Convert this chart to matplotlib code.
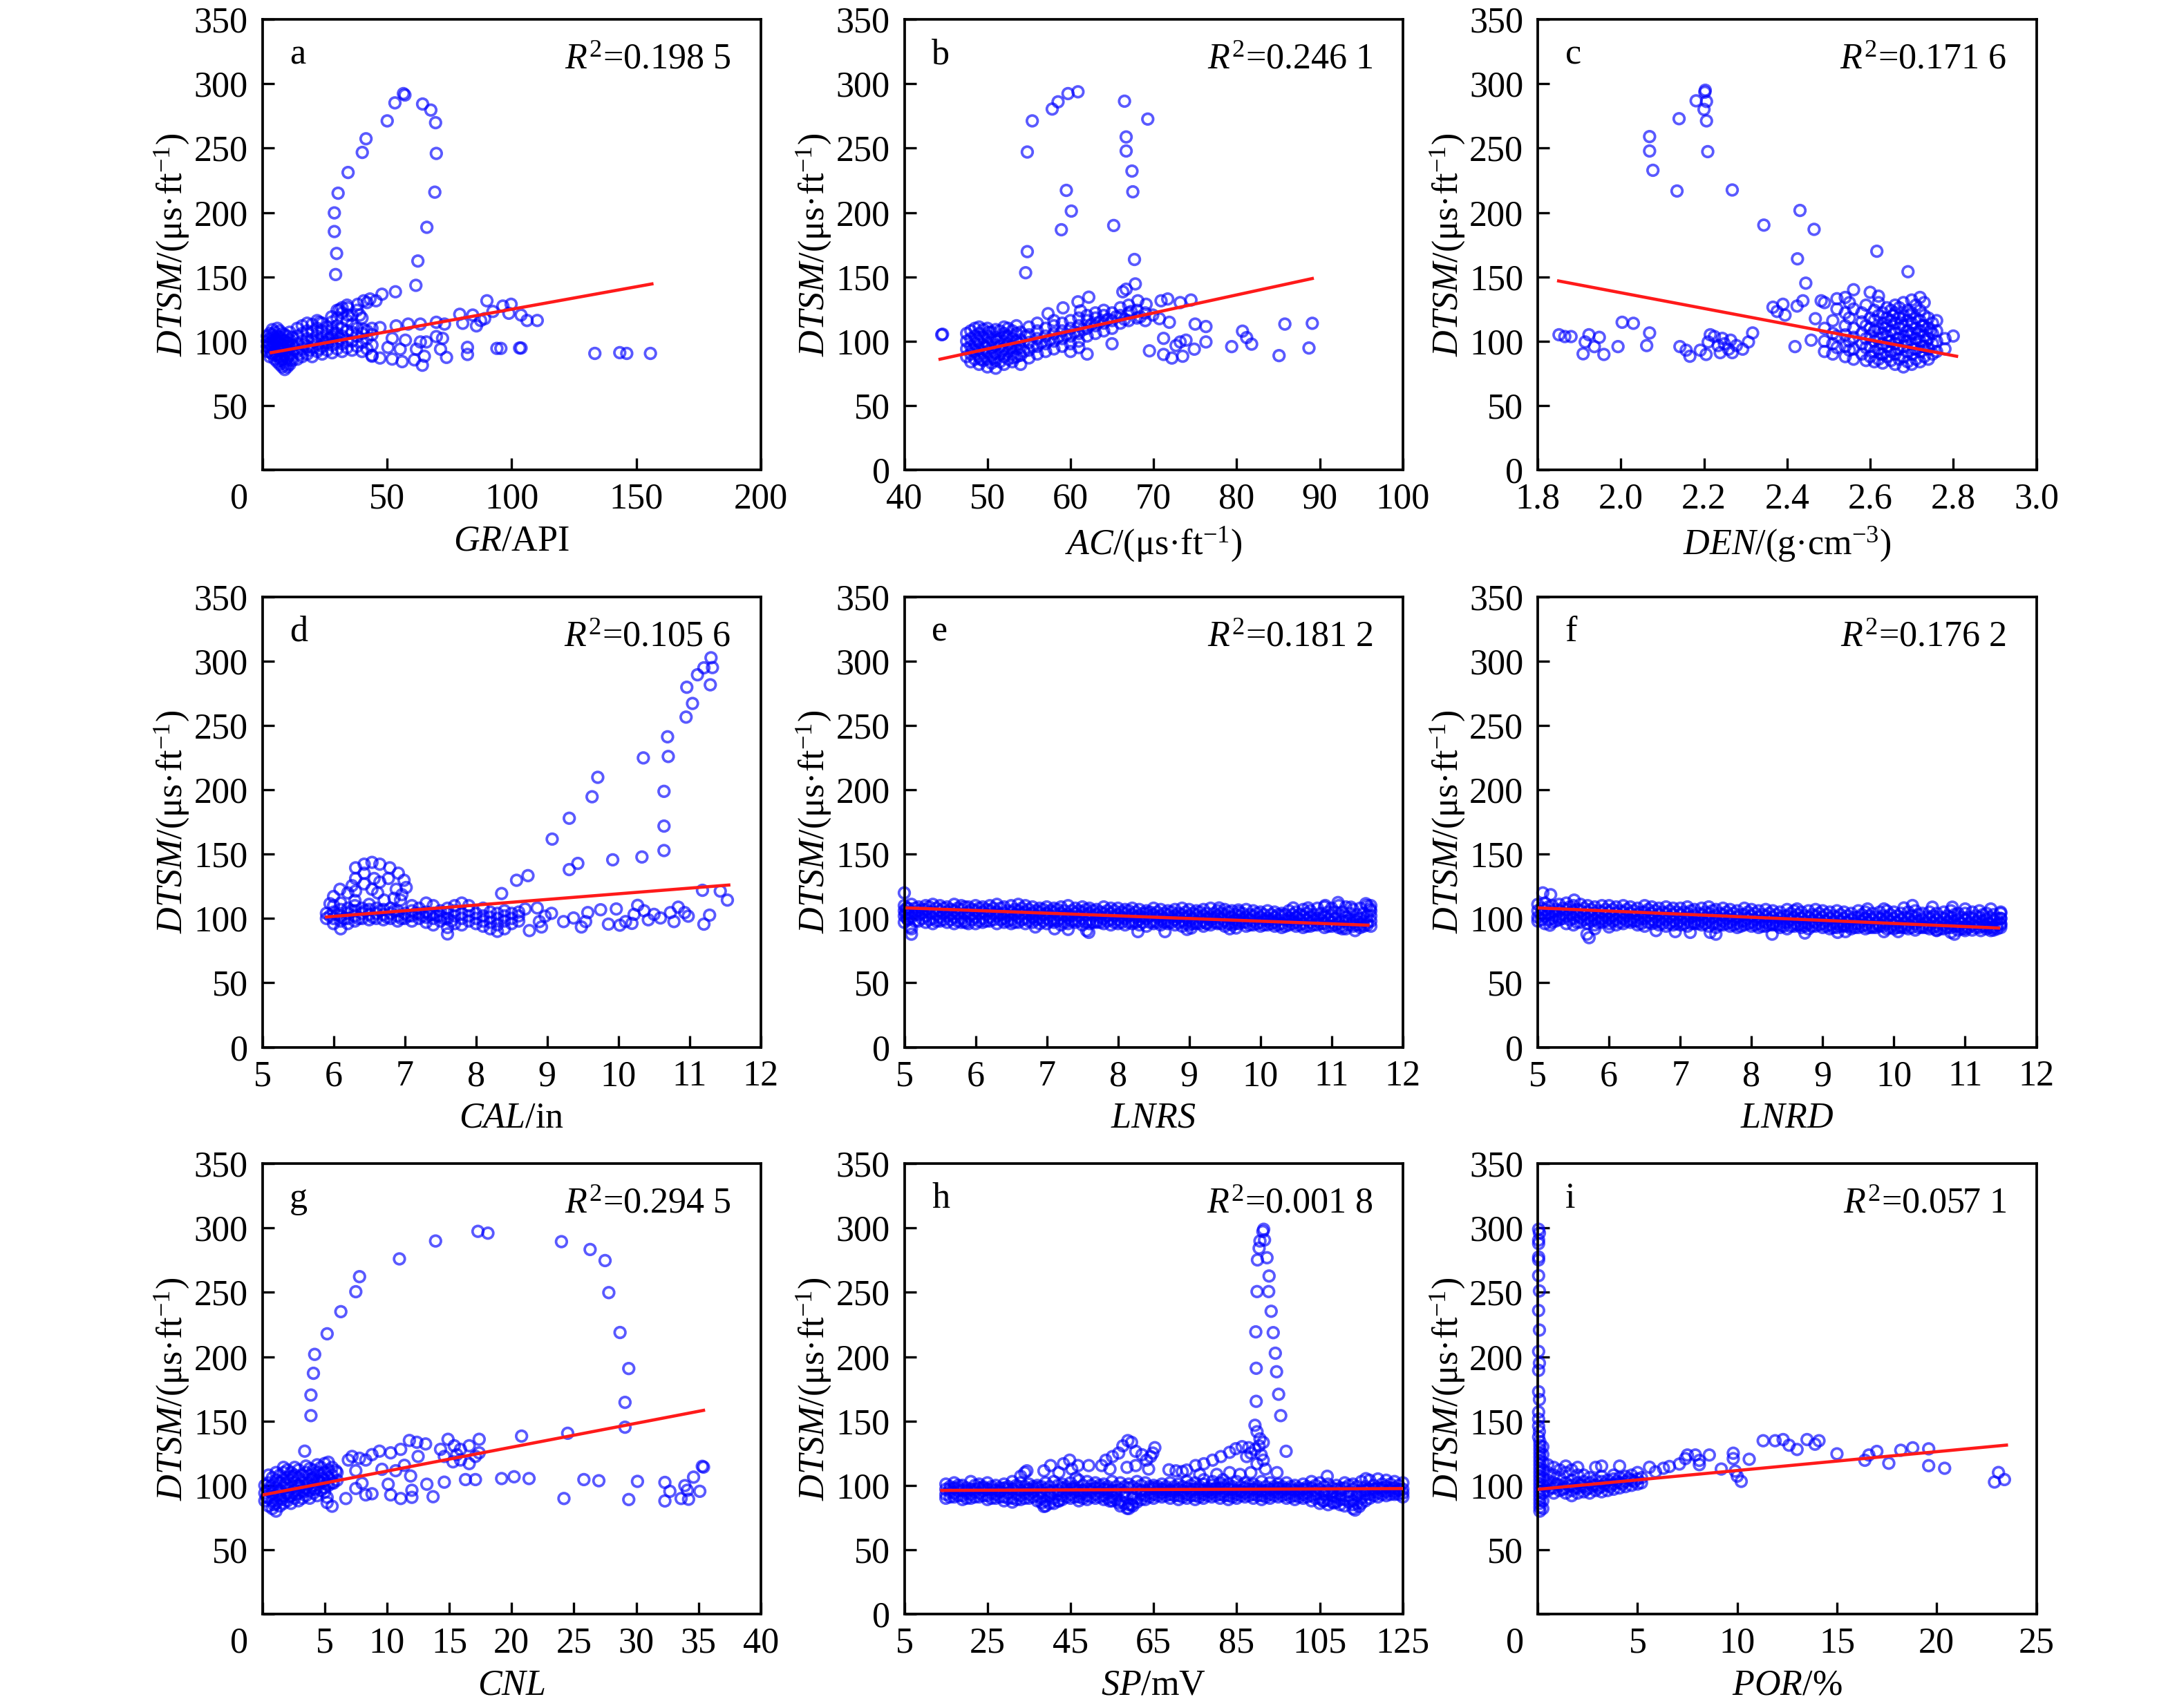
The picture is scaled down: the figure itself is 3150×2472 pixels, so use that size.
import numpy as np
import matplotlib.pyplot as plt

plt.rcParams['font.family'] = 'Liberation Serif'
plt.rcParams['mathtext.fontset'] = 'custom'
plt.rcParams['mathtext.rm'] = 'Liberation Serif'
plt.rcParams['mathtext.it'] = 'Liberation Serif:italic'
plt.rcParams['font.size'] = 12.5

# ---------------- data ----------------
# panel a : GR
a_pts = [(2,92),(2,96),(2,100),(2,104),(3,88),(3,94),(3,98),(3,102),(3,106),
         (4,90),(4,95),(4,100),(4,105),(4,109),(5,86),(5,92),(5,97),(5,101),(5,107),
         (6,84),(6,90),(6,95),(6,99),(6,104),(6,110),(7,82),(7,88),(7,93),(7,98),(7,103),(7,108),
         (8,80),(8,86),(8,92),(8,97),(8,101),(8,106),(9,78),(9,84),(9,90),(9,96),(9,100),(9,105),
         (10,80),(10,87),(10,93),(10,99),(10,104),(11,82),(11,89),(11,95),(11,101),(11,107),
         (12,85),(12,91),(12,97),(12,103),(14,86),(14,92),(14,98),(14,104),(14,110),
         (16,88),(16,94),(16,100),(16,106),(16,112),(18,90),(18,96),(18,102),(18,108),(18,114),
         (20,88),(20,95),(20,101),(20,107),(20,113),(22,92),(22,98),(22,104),(22,110),(22,116),
         (24,90),(24,96),(24,102),(24,108),(24,114),(26,93),(26,99),(26,105),(26,111),
         (28,91),(28,97),(28,103),(28,109),(28,115),(30,94),(30,100),(30,106),(30,112),(30,118),(30,124),
         (32,92),(32,98),(32,104),(32,110),(32,122),(32,126),(34,95),(34,101),(34,108),(34,116),(34,128),
         (36,93),(36,100),(36,107),(36,113),(36,120),(38,96),(38,104),(38,110),(38,124),
         (40,92),(40,99),(40,106),(40,118),(42,94),(42,102),(42,108),(42,130),(44,89),(44,97),(44,105),(44,110),
         (23,114.7),(27.8,118.9),(31,124.5),(34.3,125.9),(38.3,128.7),(40.7,131.4),(43.2,132.8),(45.6,131.4),
         (34.3,120.3),(39.1,120.3),(40.7,109.2),(47.2,110.6),(53.7,111.9),(58.5,113.3),(63.4,113.3),
         (69.8,114.7),(73.1,113.3),(63.4,99.4),(65.8,99.4),(57.4,100.8),(52.1,102.2),(44,88.3),(47.2,86.9),
         (52.1,86.1),(56.1,84.1),(61,85.5),(64.2,81.3),(65,88.3),(55.3,93.8),(50.4,95.2),(61.8,93.8),
         (71.5,93.8),(73.9,87.4),(72.3,102.2),(69.8,103.6),
         (29.4,151.8),(29.8,168.2),(28.9,185.2),(28.9,199.7),(30.4,215.0),(34.4,231.1),(40.1,246.7),
         (41.6,257.3),(50.1,271.2),(53.2,285.2),(56.6,292.4),(57.2,291.3),(64.3,284.3),(67.6,279.6),
         (69.5,269.8),(69.8,245.9),(69.2,215.8),(66.0,188.5),(62.4,162.3),(61.6,143.4),(53.4,138.4),(48.0,136.5),
         (133.4,90.5),(143.4,91.1),(146.2,90.5),(155.7,90.5),(94.1,94.4),(95.7,94.4),(103.2,94.7),(103.8,94.7),
         (82.3,95.2),(82.3,89.7),(79.2,120.9),(80.4,113.9),(84.4,120.3),(87.6,116.1),(90.1,131.4),(92.5,123.1),
         (96.5,127.3),(99.8,128.7),(103.8,120.3),(106.2,116.1),(110.3,116.1),(98.9,121.7),(89.2,117.5),(85.9,111.9),
         (2.5,98),(3.5,91),(4.5,103),(5.5,89),(6.5,101),(7.5,85),(8.5,94),(9.5,82),(10.5,97),(11.5,86),
         (13,94),(15,90),(17,97),(19,93),(21,100),(23,94),(25,99),(27,102),(29,106),(31,102)]
a_fit_x = [3.6, 156.3]
a_fit_y = [91.1, 144.5]

# panel b : AC
b_pts = [(47.5,88),(47.5,94),(47.5,100),(47.5,106),(48,84),(48,90),(48,96),(48,102),(48,108),
         (48.5,86),(48.5,92),(48.5,98),(48.5,104),(48.5,110),(49,82),(49,88),(49,94),(49,100),(49,106),(49,111),
         (49.5,85),(49.5,91),(49.5,97),(49.5,103),(49.5,109),(50,80),(50,86),(50,92),(50,98),(50,104),(50,110),
         (50.5,83),(50.5,89),(50.5,95),(50.5,101),(50.5,107),(51,79),(51,85),(51,91),(51,97),(51,103),(51,109),
         (51.5,84),(51.5,90),(51.5,96),(51.5,102),(51.5,108),(52,82),(52,88),(52,94),(52,100),(52,106),(52,111),
         (52.5,86),(52.5,92),(52.5,98),(52.5,104),(52.5,110),(53,84),(53,90),(53,96),(53,102),(53,108),
         (53.5,88),(53.5,94),(53.5,100),(53.5,106),(53.5,112),(54,82),(54,89),(54,95),(54,101),(54,107),
         (55,87),(55,93),(55,99),(55,105),(55,111),(56,90),(56,96),(56,102),(56,108),(56,114),
         (57,92),(57,98),(57,104),(57,110),(58,94),(58,100),(58,106),(58,112),(58,116),
         (59,96),(59,102),(59,108),(59,114),(60,98),(60,104),(60,110),(60,116),(60,92),
         (61,100),(61,106),(61,112),(61,118),(61,95),(62,104),(62,110),(62,116),(62,120),(62,90),
         (63,106),(63,112),(63,118),(63,122),(64,108),(64,114),(64,120),(64,124),
         (65,110),(65,116),(65,122),(65,98),(66,114),(66,120),(66,126),(67,116),(67,122),(67,128),
         (68,118),(68,124),(69,116),(69,122),
         (44.5,105.0),(44.6,105.4),(54.6,153.2),(54.8,169.6),(54.8,247.0),(55.4,271.2),(57.8,280.4),(58.5,286.0),
         (59.7,292.4),(60.9,293.8),(59.5,217.2),(60.1,201.1),(58.9,186.6),(65.2,189.9),(66.5,286.5),
         (69.3,272.6),(66.7,258.7),(66.7,247.8),(67.4,232.2),(67.5,216.1),(67.7,163.5),(67.8,144.5),
         (75.0,113.3),(76.3,111.4),(76.3,99.4),(74.9,93.8),(79.4,95.8),(80.7,107.8),(81.2,102.8),(81.8,97.7),
         (85.1,88.8),(85.8,113.3),(88.7,94.7),(89.1,113.9),(69.5,92.5),(71.2,89.7),(71.2,102.2),(72.7,96.6),
         (73.5,88.3),(73.2,99.4),(72.2,86.9),(73.9,100.8),
         (66.3,138.4),(66.7,140.4),(68.1,131.4),(69.1,128.7),(70.9,131.4),(71.7,132.8),(73.2,130.0),(74.5,132.0),
         (69.9,120.3),(70.7,117.5),(71.9,114.7),(68.4,118.9),(67.3,123.1),(62.2,134.2),(60.9,130.6),
         (59.1,125.9),(57.3,121.4),(61.2,123.6),
         (48.2,93),(48.8,101),(49.2,86),(49.8,95),(50.2,107),(50.8,87),(51.2,100),(51.8,93),(52.2,104),
         (52.8,95),(53.2,87),(53.8,98),(54.4,92),(54.6,104),(55.5,96),(56.5,99),(57.5,101),(58.5,103),
         (59.5,105),(60.5,107),(61.5,109),(62.5,113),(63.5,115),(64.5,117),(65.5,119),(66.5,117)]
b_fit_x = [44.3, 89.1]
b_fit_y = [86.0, 148.7]

# panel c : DEN
c_pts = [(2.069,259.0),(2.069,247.8),(2.077,232.8),(2.140,272.9),(2.135,216.7),(2.181,286.8),(2.202,293.5),
         (2.203,295.0),(2.206,286.3),(2.200,280.1),(2.206,271.2),(2.209,247.3),(2.268,217.5),(2.344,190.2),
         (2.431,201.6),(2.465,186.9),(2.425,164.0),(2.445,145.1),(2.616,169.9),(2.691,154.0),
         (1.851,105.0),(1.865,103.6),(1.880,103.6),(1.909,90.2),(1.914,99.4),(1.923,105.0),(1.936,95.8),
         (1.948,103.0),(1.959,89.7),(1.993,95.8),(2.003,114.7),(2.030,113.9),(2.062,96.6),(2.069,106.4),
         (2.142,95.8),(2.157,93.0),(2.166,88.3),(2.191,93.0),(2.205,89.7),(2.210,99.4),(2.215,105.0),
         (2.225,103.6),(2.234,96.6),(2.239,91.1),(2.249,98.0),(2.259,93.8),(2.264,100.8),(2.278,96.6),
         (2.293,93.8),(2.307,99.4),(2.317,106.4),(2.268,91.1),(2.244,102.2),
         (2.366,126.4),(2.376,123.1),(2.390,128.7),(2.395,120.3),(2.424,127.3),(2.438,131.4),(2.419,95.8),
         (2.458,100.8),(2.468,117.5),(2.482,131.4),
         (2.49,92),(2.49,100),(2.49,110),(2.49,130),(2.51,90),(2.51,98),(2.51,106),(2.51,116),
         (2.52,95),(2.52,104),(2.52,125),(2.52,133),(2.54,88),(2.54,96),(2.54,105),(2.54,112),(2.54,122),(2.54,134),
         (2.55,93),(2.55,100),(2.55,118),(2.55,130),(2.56,86),(2.56,94),(2.56,103),(2.56,110),(2.56,125),(2.56,140),
         (2.58,90),(2.58,98),(2.58,106),(2.58,115),(2.58,122),(2.59,85),(2.59,95),(2.59,102),(2.59,112),(2.59,128),
         (2.60,88),(2.60,96),(2.60,104),(2.60,110),(2.60,118),(2.60,138),
         (2.61,84),(2.61,92),(2.61,100),(2.61,108),(2.61,116),(2.61,124),
         (2.62,86),(2.62,94),(2.62,102),(2.62,110),(2.62,120),(2.62,130),(2.62,135),
         (2.63,83),(2.63,90),(2.63,98),(2.63,106),(2.63,114),(2.63,122),
         (2.64,88),(2.64,96),(2.64,104),(2.64,112),(2.64,118),(2.64,126),
         (2.65,85),(2.65,92),(2.65,100),(2.65,108),(2.65,116),(2.65,124),
         (2.66,82),(2.66,90),(2.66,98),(2.66,106),(2.66,114),(2.66,122),(2.66,128),
         (2.67,86),(2.67,94),(2.67,102),(2.67,110),(2.67,118),(2.67,126),
         (2.68,80),(2.68,88),(2.68,96),(2.68,104),(2.68,112),(2.68,120),(2.68,130),
         (2.69,84),(2.69,92),(2.69,100),(2.69,108),(2.69,116),(2.69,124),
         (2.70,82),(2.70,90),(2.70,98),(2.70,106),(2.70,114),(2.70,122),(2.70,132),
         (2.71,86),(2.71,94),(2.71,102),(2.71,110),(2.71,118),(2.71,128),
         (2.72,84),(2.72,92),(2.72,100),(2.72,108),(2.72,116),(2.72,124),(2.72,134),
         (2.73,88),(2.73,96),(2.73,104),(2.73,112),(2.73,120),(2.73,130),
         (2.74,86),(2.74,94),(2.74,102),(2.74,110),(2.74,118),(2.75,90),(2.75,98),(2.75,106),(2.75,114),
         (2.76,92),(2.76,100),(2.76,108),(2.76,116),(2.78,94),(2.78,102),(2.80,104),
         (2.625,90),(2.635,110),(2.645,100),(2.655,120),(2.665,94),(2.675,114),(2.685,100),(2.695,120),
         (2.705,94),(2.715,106),(2.725,112),(2.735,100),(2.745,108),(2.665,102),(2.695,104),(2.725,96)]
c_fit_x = [1.85, 2.808]
c_fit_y = [146.8, 88.3]

# panel d : CAL
d_pts = [(9.07,161.7),(9.31,177.9),(9.31,138.0),(9.43,142.8),(9.63,194.6),(9.71,209.7),(9.92,145.6),
         (10.35,224.8),(10.33,147.8),(10.64,198.8),(10.64,171.8),(10.64,152.8),(10.69,241.2),(10.70,225.9),
         (10.95,256.5),(10.96,279.7),(11.04,267.1),(11.11,289.4),(11.20,294.8),(11.30,302.6),(11.29,281.6),
         (11.32,295.0),(8.57,129.7),(8.73,133.3),(8.36,119.4),(11.18,121.9),(11.43,121.3),(11.53,114.3),
         (11.28,102.6),(11.20,95.6),
         (9.06,104.0),(9.23,97.6),(9.37,100.4),(9.48,93.4),(9.57,104.6),(9.75,106.8),(9.86,95.6),(9.97,107.4),
         (10.02,94.8),(10.10,97.6),(10.22,103.2),(10.27,110.2),(10.36,106.0),(10.42,99.0),(10.50,103.2),
         (10.59,100.4),(10.73,104.6),(10.84,108.8),(10.93,104.6),(10.98,101.8),(10.78,97.6),(10.19,96.2),
         (9.54,97.6),(8.89,97.6),(8.75,90.6),(8.92,93.4),(8.69,107.4),(8.86,108.2),(8.97,101.8),
         (6.31,139.4),(6.43,142.2),(6.54,143.6),(6.65,142.2),(6.79,139.4),(6.91,135.2),(6.99,129.7),
         (7.02,124.1),(6.96,118.5),(6.85,115.7),(6.71,114.3),(6.62,119.9),(6.65,128.3),(6.57,131.1),
         (6.43,135.2),(6.31,131.1),(6.26,125.5),(6.20,119.9),(6.09,122.7),(6.00,117.1),(5.95,111.5),
         (6.31,121.3),(6.43,126.9),(6.54,122.7),(6.88,122.7),(6.77,131.1),(6.94,114.3),
         (5.9,100),(5.9,104),(6.0,96),(6.0,100),(6.0,105),(6.0,110),(6.1,92),(6.1,98),(6.1,102),(6.1,107),(6.1,112),
         (6.2,96),(6.2,100),(6.2,104),(6.2,108),(6.3,98),(6.3,102),(6.3,106),(6.3,110),(6.3,114),
         (6.4,100),(6.4,104),(6.4,108),(6.5,99),(6.5,103),(6.5,107),(6.5,111),(6.6,100),(6.6,104),(6.6,108),
         (6.7,99),(6.7,103),(6.7,107),(6.8,100),(6.8,104),(6.8,108),(6.9,98),(6.9,102),(6.9,106),
         (7.0,100),(7.0,104),(7.1,98),(7.1,102),(7.1,106),(7.1,110),(7.2,100),(7.2,104),(7.2,108),
         (7.3,97),(7.3,101),(7.3,105),(7.3,112),(7.4,95),(7.4,100),(7.4,104),(7.4,110),(7.5,98),(7.5,102),(7.5,106),
         (7.6,88),(7.6,93),(7.6,100),(7.6,104),(7.6,108),(7.7,96),(7.7,102),(7.7,106),(7.7,110),
         (7.8,95),(7.8,100),(7.8,104),(7.8,112),(7.9,98),(7.9,102),(7.9,106),(7.9,110),(8.0,96),(8.0,100),(8.0,104),
         (8.1,94),(8.1,98),(8.1,102),(8.1,108),(8.2,92),(8.2,97),(8.2,101),(8.2,105),(8.3,90),(8.3,95),(8.3,100),(8.3,104),
         (8.4,92),(8.4,98),(8.4,102),(8.4,106),(8.5,96),(8.5,100),(8.5,104),(8.6,98),(8.6,102),(8.6,105),
         (5.95,102),(6.05,103),(6.15,100),(6.25,106),(6.35,100),(6.45,106),(6.55,101),(6.65,106),(6.75,101),
         (6.85,106),(6.95,100),(7.05,102),(7.15,104),(7.25,102),(7.35,103),(7.45,102),(7.55,100),(7.65,98)]
d_fit_x = [5.90, 11.55]
d_fit_y = [101.2, 126.0]

# panel e : LNRS (dense band sampled in rows)
e_band_x = [5.0,5.1,5.2,5.3,5.4,5.5,5.6,5.7,5.8,5.9,6.0,6.1,6.2,6.3,6.4,6.5,6.6,6.7,6.8,6.9,
            7.0,7.1,7.2,7.3,7.4,7.5,7.6,7.7,7.8,7.9,8.0,8.1,8.2,8.3,8.4,8.5,8.6,8.7,8.8,8.9,
            9.0,9.1,9.2,9.3,9.4,9.5,9.6,9.7,9.8,9.9,10.0,10.1,10.2,10.3,10.4,10.5,10.6,10.7,10.8,10.9,
            11.0,11.1,11.2,11.3,11.4,11.5]
e_top = [110,111,109,110,111,110,109,111,110,109,110,109,110,111,109,110,111,110,109,108,
         109,108,109,110,108,109,108,107,109,108,108,107,108,107,106,108,107,106,107,108,
         107,106,107,108,106,107,106,105,107,106,105,106,105,104,106,105,107,106,108,109,
         108,110,109,107,108,110]
e_upper = [106,105,106,107,105,106,105,106,107,105,106,105,106,105,104,105,106,105,104,105,
           104,105,104,103,104,105,104,103,104,104,103,104,103,102,104,103,102,103,102,103,
           102,103,102,101,102,103,101,102,101,102,101,100,101,102,100,101,102,101,100,101,
           102,100,101,99,100,102]
e_lower = [102,101,103,102,100,101,102,101,100,102,101,100,101,102,100,99,101,100,101,100,
           100,99,100,101,99,100,99,98,100,99,99,100,98,99,100,98,99,98,99,98,
           98,97,98,99,97,98,97,98,97,98,97,98,97,96,98,97,96,97,98,96,
           97,96,98,97,95,97]
e_bottom = [97,92,98,97,96,98,97,96,97,96,96,97,98,96,97,96,97,96,97,96,
            96,97,95,96,97,95,96,97,96,95,96,95,96,95,94,96,95,96,95,94,
            95,96,94,95,96,94,95,96,94,95,94,95,94,93,95,94,93,94,95,93,
            94,93,92,94,93,95]
e_band_x_mid = [5.05,5.15,5.25,5.35,5.45,5.55,5.65,5.75,5.85,5.95,6.05,6.15,6.25,6.35,6.45,6.55,6.65,6.75,6.85,6.95,
                7.05,7.15,7.25,7.35,7.45,7.55,7.65,7.75,7.85,7.95,8.05,8.15,8.25,8.35,8.45,8.55,8.65,8.75,8.85,8.95,
                9.05,9.15,9.25,9.35,9.45,9.55,9.65,9.75,9.85,9.95,10.05,10.15,10.25,10.35,10.45,10.55,10.65,10.75,10.85,10.95,
                11.05,11.15,11.25,11.35,11.45]
e_mid_hi = [108,108,107,109,108,108,107,108,109,107,108,107,108,108,106,107,108,107,106,107,
            106,107,106,106,106,107,106,105,106,106,105,106,105,104,105,105,104,105,104,105,
            104,105,104,104,104,105,103,104,103,104,103,103,103,103,103,103,104,103,104,105,
            105,105,104,103,104]
e_mid_c = [104,103,104,105,103,104,103,104,104,103,104,103,104,103,102,103,104,103,102,103,
           102,103,102,102,102,103,102,101,102,102,101,102,101,101,102,101,100,101,101,101,
           100,101,100,100,100,101,99,100,99,100,99,99,99,99,99,99,99,99,99,99,
           100,98,99,98,98]
e_mid_lo = [99,98,100,99,98,99,99,98,98,99,98,98,99,99,98,97,99,98,99,98,
            98,98,97,98,98,97,97,97,98,97,97,97,97,97,97,97,97,97,97,96,
            96,96,96,97,96,96,96,97,95,96,95,96,95,94,96,95,94,95,96,94,
            95,94,95,95,94]
e_pts = [(5.0,119.9),(5.1,87.8),(5.08,93.4),(5.86,96.8),(6.84,93.4),(7.11,92.0),(7.30,91.5),(7.56,90.6),
         (7.59,89.2),(8.28,89.8),(8.66,89.8),(8.97,91.5),(9.03,92.6),(9.24,96.2),(9.57,92.0),(9.66,92.6),
         (9.42,108.2),(9.69,106.6),(10.46,108.2),(10.67,108.2),(10.91,110.1),(11.09,112.4),(11.27,108.8),
         (11.15,92.0),(11.33,90.6),(11.48,111.5),(11.54,107.4),(11.55,94),(11.55,98),(11.55,102),
         (11.55,106),(11.55,110),(5.02,104),(5.04,100),(5.03,108)]
e_fit_x = [5.04, 11.51]
e_fit_y = [108.2, 94.8]

# panel f : LNRD
f_band_x = e_band_x
f_top = [111,112,110,111,112,110,111,110,109,110,110,109,110,109,108,110,109,108,109,108,
         108,109,107,108,109,107,108,107,106,108,107,106,107,106,105,107,106,105,106,107,
         106,105,106,105,104,106,105,104,105,106,105,104,105,106,104,105,104,105,106,104,
         104,105,106,104,103,105]
f_upper = [106,107,105,106,107,105,106,105,104,105,105,104,105,104,103,105,104,103,104,103,
           103,104,102,103,104,102,103,102,101,103,102,101,102,101,100,102,101,100,101,102,
           101,100,101,100,99,101,100,99,100,101,100,99,100,101,99,100,99,100,101,99,
           99,100,101,99,98,100]
f_lower = [101,102,100,101,102,100,101,100,99,100,100,99,100,99,98,100,99,98,99,98,
           98,99,97,98,99,97,98,97,96,98,97,96,97,96,95,97,96,95,96,97,
           96,95,96,95,94,96,95,94,95,96,95,94,95,96,94,95,94,95,96,94,
           94,95,96,94,93,95]
f_bottom = [98,96,97,99,96,95,97,96,95,97,96,95,96,97,95,94,96,95,94,95,
            95,94,96,95,94,93,95,94,93,95,94,93,94,95,93,92,94,93,92,94,
            93,92,93,94,92,93,92,93,94,92,92,93,92,91,93,92,91,92,93,91,
            92,91,93,92,91,93]
f_band_x_mid = e_band_x_mid
f_mid_hi = [108,109,107,108,109,107,108,107,106,107,107,106,107,106,105,107,106,105,106,105,
            105,106,104,105,106,104,105,104,103,105,104,103,104,103,102,104,103,102,103,104,
            103,102,103,102,101,103,102,101,102,103,102,101,102,103,101,102,101,102,103,101,
            101,102,103,101,100]
f_mid_c = [103,104,102,103,104,102,103,102,101,102,102,101,102,101,100,102,101,100,101,100,
           100,101,99,100,101,99,100,99,98,100,99,98,99,98,97,99,98,97,98,99,
           98,97,98,97,96,98,97,96,97,98,97,96,97,98,96,97,96,97,98,96,
           96,97,98,96,95]
f_mid_lo = [99,99,98,100,99,97,99,98,97,98,98,97,98,98,96,97,97,96,96,96,
            96,96,96,96,96,95,96,95,94,96,95,94,95,95,94,94,95,94,94,95,
            94,93,94,94,93,94,93,93,94,93,93,93,93,93,93,93,92,93,94,92,
            93,93,94,93,92]
f_pts = [(5.17,94.8),(5.18,118.5),(5.07,119.9),(5.51,114.3),(5.69,87.8),(5.72,85.1),(5.80,92.0),(6.0,93.4),
         (6.66,90.6),(6.93,89.8),(7.14,89.2),(7.42,89.2),(7.50,87.8),(8.29,87.8),(8.75,88.7),(9.21,89.2),
         (9.32,89.8),(9.86,89.8),(10.06,89.8),(10.14,108.2),(10.26,110.1),(10.54,108.8),(9.63,107.4),
         (9.86,107.4),(8.64,107.4),(10.60,90.6),(10.80,89.2),(10.85,87.8),(11.0,90.6),(10.82,108.8),
         (11.0,107.4),(11.36,107.4),(11.22,90.6),(11.36,90.6),(11.5,96),(11.5,100),(11.5,104)]
f_fit_x = [5.01, 11.47]
f_fit_y = [108.2, 92.6]

# panel g : CNL
g_pts = [(0.2,88),(0.2,94),(0.2,100),(0.5,84),(0.5,90),(0.5,96),(0.5,102),(0.5,108),
         (0.8,82),(0.8,88),(0.8,94),(0.8,100),(0.8,106),(1.1,80),(1.1,86),(1.1,92),(1.1,98),(1.1,104),(1.1,110),
         (1.4,84),(1.4,90),(1.4,96),(1.4,102),(1.4,108),(1.7,86),(1.7,92),(1.7,98),(1.7,104),(1.7,110),(1.7,114),
         (2.0,88),(2.0,94),(2.0,100),(2.0,106),(2.0,112),(2.3,86),(2.3,92),(2.3,98),(2.3,104),(2.3,110),
         (2.6,90),(2.6,96),(2.6,102),(2.6,108),(2.6,114),(2.9,88),(2.9,94),(2.9,100),(2.9,106),(2.9,112),
         (3.2,90),(3.2,96),(3.2,102),(3.2,108),(3.5,92),(3.5,98),(3.5,104),(3.5,110),(3.5,115),
         (3.8,90),(3.8,96),(3.8,102),(3.8,108),(3.8,113),(4.1,94),(4.1,100),(4.1,106),(4.1,112),
         (4.4,92),(4.4,98),(4.4,104),(4.4,110),(4.4,116),(4.7,96),(4.7,102),(4.7,108),(4.7,114),
         (5.0,98),(5.0,104),(5.0,110),(5.0,117),(5.3,100),(5.3,106),(5.3,112),(5.3,118),
         (5.6,102),(5.6,108),(5.6,114),(6.0,104),(6.0,110),
         (0.35,91),(0.65,99),(0.95,85),(1.25,95),(1.55,89),(1.85,101),(2.15,91),(2.45,107),(2.75,93),
         (3.05,99),(3.35,95),(3.65,101),(3.95,105),(4.25,97),(4.55,103),(4.85,105),(5.15,101),
         (3.9,154.2),(3.9,170.2),(4.1,187.1),(4.2,201.8),(5.2,217.8),(6.3,235.0),(7.5,250.5),(7.8,262.2),
         (11.0,276.0),(13.9,289.9),(17.3,297.4),(18.1,296.0),(24.0,289.4),(26.3,283.3),(27.5,274.7),
         (27.8,249.8),(28.7,218.8),(29.4,190.8),(29.1,164.5),(29.1,145.2),(24.5,140.5),(20.8,138.3),(3.4,126.6),
         (19.2,105.3),(20.2,106.7),(21.4,105.3),(24.2,89.8),(25.8,104.5),(27.0,103.6),(29.4,89.0),(30.1,103.1),
         (32.3,102.3),(32.3,87.9),(32.7,95.4),(33.6,89.8),(33.9,99.8),(34.2,89.2),(34.1,96.2),(34.6,106.4),
         (35.1,95.4),(35.4,114.2),(35.3,114.8),
         (14.9,135.8),(15.4,130.8),(15.9,128.0),(16.6,130.8),(17.4,135.8),(14.6,122.5),(15.3,118.3),
         (15.9,119.7),(16.6,116.9),(17.1,122.5),(17.4,125.3),(14.3,128.0),(16.3,104.5),(17.1,104.5),(15.6,123.9),
         (11.1,128.0),(11.8,134.9),(12.4,133.5),(13.1,132.2),(12.5,122.5),(11.4,115.6),(9.4,126.6),(10.3,125.3),
         (8.8,123.9),(13.2,100.9),(13.7,91.2),(14.6,102.5),(12.0,90.7),(12.0,96.2),(11.9,107.3),(11.1,89.8),
         (10.3,92.6),(10.1,100.9),(9.6,112.5),(10.7,111.4),(8.8,93.5),(8.3,92.6),(8.0,101.7),(7.5,97.6),
         (6.7,89.8),(7.5,111.4),(6.9,119.7),(7.2,122.5),(7.8,121.1),(8.3,119.7),(5.9,111.4),(5.7,101.7),
         (5.2,86.6),(5.6,83.8),(5.2,90.7),(5.0,94.8)]
g_fit_x = [0.1, 35.4]
g_fit_y = [92.7, 158.3]

# panel h : SP (dense band sampled in rows)
h_band_x = [15,17,19,21,23,25,27,29,31,33,35,37,39,41,43,45,47,49,51,53,
            55,57,59,61,63,65,67,69,71,73,75,77,79,81,83,85,87,89,91,93,
            95,97,99,101,103,105,107,109,111,113,115,117,119,121,123,125]
h_top = [101,102,100,103,101,102,100,101,103,102,101,100,102,103,101,102,104,103,102,101,
         103,102,101,103,102,100,101,102,101,103,102,101,100,102,101,103,102,101,103,102,
         101,102,100,101,103,102,101,100,102,101,103,104,105,104,103,102]
h_upper = [97,98,96,97,98,97,96,98,97,96,97,98,97,96,98,97,96,97,98,97,
           96,97,98,97,96,98,97,96,97,98,97,96,97,98,97,96,98,97,96,97,
           98,97,96,97,98,97,96,97,98,97,96,97,98,99,98,97]
h_lower = [93,94,92,93,94,92,93,91,90,92,93,92,88,90,92,93,91,92,93,92,
           91,88,85,90,92,93,94,93,92,93,92,93,94,93,92,93,94,93,92,93,
           94,93,92,93,92,90,89,91,89,88,90,93,94,95,95,94]
h_bottom = [90,91,89,90,91,89,90,88,87,89,90,88,84,86,89,90,88,89,90,89,
            88,84,82,87,89,90,91,90,89,90,89,90,91,90,89,90,91,90,89,90,
            91,90,89,90,88,86,85,87,84,82,86,90,91,92,93,91]
h_band_x_mid = [16,18,20,22,24,26,28,30,32,34,36,38,40,42,44,46,48,50,52,54,
                56,58,60,62,64,66,68,70,72,74,76,78,80,82,84,86,88,90,92,94,
                96,98,100,102,104,106,108,110,112,114,116,118,120,122,124]
h_mid_hi = [99,100,98,100,99,99,98,99,100,99,99,99,99,100,99,99,100,100,100,99,
            99,99,99,100,99,99,99,99,99,100,99,98,98,100,99,99,100,99,99,99,
            99,99,98,99,100,99,98,98,100,99,99,100,101,101,100]
h_mid_c = [97,98,96,97,98,97,96,97,98,97,97,96,95,96,97,97,96,97,98,97,
           96,95,93,96,97,97,97,97,96,97,97,96,97,98,97,96,97,97,96,97,
           97,97,96,97,96,95,95,96,95,95,96,97,98,98,97]
h_mid_lo = [95,96,94,95,96,94,95,94,93,94,95,94,92,93,95,95,94,95,95,94,
            93,92,90,93,94,95,95,95,94,95,94,95,95,95,94,95,95,95,94,95,
            95,94,94,94,93,93,92,93,92,92,93,95,96,96,96]
h_mid_b = [91,92,90,91,92,90,91,90,89,90,91,90,86,88,91,91,90,91,91,90,
           89,86,84,89,91,92,92,92,91,92,91,92,92,92,91,92,92,92,91,92,
           92,91,91,91,90,88,87,89,87,86,88,92,93,93,93]
h_pts = [(89.7,165.3),(89.7,191.0),(89.6,219.3),(89.9,250.6),(90.0,275.2),(90.4,284.3),(90.6,289.9),
         (91.3,297.3),(91.5,299.0),(91.7,290.7),(92.3,276.9),(92.8,262.7),(92.7,250.6),(93.3,235.3),
         (93.8,218.7),(94.3,202.7),(94.6,188.3),(95.1,170.8),(95.6,154.2),(96.9,126.5),(89.4,146.7),
         (89.9,141.7),(90.6,136.2),(91.4,133.4),(90.4,130.7),(89.4,127.9),(90.9,123.8),(91.4,119.6),
         (89.9,116.8),(91.9,112.7),(94.7,109.9),(106.8,107.1),(116.1,105.2),
         (73.0,111.9),(75.1,115.4),(77.1,116.8),(79.2,119.6),(81.2,122.4),(83.3,125.7),(84.8,128.5),
         (86.3,130.1),(87.9,129.3),(87.4,122.4),(88.4,125.1),(76.1,108.5),(80.2,108.5),(83.3,109.9),
         (85.8,108.5),(88.4,109.9),(81.7,104.4),(79.2,103.0),(77.1,104.4),
         (46.8,115.4),(49.4,115.4),(52.5,115.4),(53.5,119.6),(55.1,122.4),(56.6,125.1),(57.6,130.7),
         (58.8,134.8),(59.7,133.4),(60.7,126.5),(62.2,123.8),(63.3,119.6),(64.3,122.4),(65.3,129.3),
         (64.8,125.1),(63.8,112.7),(60.7,115.4),(58.6,114.0),(54.5,112.7),(68.7,112.1),(70.4,111.3),
         (71.9,110.7),(44.8,119.6),(43.3,116.8),(45.3,112.7),(42.2,109.9),(40.2,115.4),(38.6,111.3),
         (34.0,109.9),(33.0,107.1),(34.5,111.3),(46.3,105.8),(47.4,93.3),
         (38.6,83.6),(38.1,86.4),(42.2,87.8),(54.5,87.8),(56.6,86.4),(58.6,82.2),(59.7,85.0),(105.8,87.8),
         (108.4,86.4),(109.9,85.0),(113.5,80.8),(114.5,83.6),(113.0,85.0)]
h_fit_x = [14.0, 124.8]
h_fit_y = [96.1, 97.5]

# panel i : POR
i_pts = [(0.04,299.0),(0.08,296.1),(0.04,290.6),(0.04,287.9),(0.04,277.4),(0.04,275.2),(0.04,263.0),
         (0.08,251.1),(0.04,235.9),(0.08,220.7),(0.04,204.1),(0.08,195.0),(0.04,189.4),(0.04,172.8),
         (0.08,166.7),(0.04,157.0),(0.04,151.5),(0.04,146.0),(0.08,141.8),(0.04,137.6),
         (0.1,80),(0.1,83),(0.1,86),(0.1,89),(0.1,92),(0.1,95),(0.1,98),(0.1,101),(0.1,104),(0.1,107),
         (0.1,110),(0.1,113),(0.1,116),(0.1,119),(0.1,122),(0.1,125),(0.1,128),(0.1,131),(0.1,134),
         (0.25,82),(0.25,88),(0.25,94),(0.25,100),(0.25,106),(0.25,112),(0.25,118),(0.25,124),(0.25,130),
         (0.5,96),(0.5,100),(0.5,104),(0.5,110),(0.5,116),(0.8,94),(0.8,98),(0.8,102),(0.8,108),(0.8,114),
         (1.1,96),(1.1,100),(1.1,106),(1.1,112),(1.4,94),(1.4,98),(1.4,102),(1.4,110),(1.4,115),
         (1.7,92),(1.7,96),(1.7,100),(1.7,104),(1.7,112),(2.0,94),(2.0,98),(2.0,102),(2.0,108),(2.0,114),
         (2.3,95),(2.3,99),(2.3,103),(2.3,108),(2.6,94),(2.6,98),(2.6,102),(2.6,106),
         (2.9,96),(2.9,100),(2.9,104),(2.9,114),(3.2,95),(3.2,99),(3.2,103),(3.2,107),(3.2,115),
         (3.5,96),(3.5,100),(3.5,104),(3.8,97),(3.8,101),(3.8,105),(3.8,108),(4.1,98),(4.1,102),(4.1,106),(4.1,115),
         (4.4,99),(4.4,103),(4.4,107),(4.7,100),(4.7,104),(4.7,108),(5.0,101),(5.0,105),(5.0,110),(5.2,102),(5.2,106),
         (0.65,98),(0.95,101),(1.25,97),(1.55,100),(1.85,98),(2.15,100),(2.45,97),(2.75,100),(3.05,98),
         (3.35,101),(3.65,99),(3.95,103),(4.25,101),(4.55,105),(4.85,103),
         (5.6,114.1),(5.9,110.5),(6.3,113.3),(6.6,114.7),(7.1,116.6),(7.4,120.8),(7.5,123.6),(7.9,123.6),
         (8.1,119.4),(8.1,116.1),(8.6,123.6),(9.2,112.7),(9.8,125.0),(9.8,120.8),(9.9,111.1),(10.0,107.2),
         (10.2,103.1),(10.6,120.3),(11.3,134.7),(11.9,134.7),(12.3,135.6),(12.6,131.2),(13.0,127.9),
         (13.5,135.6),(13.9,132.0),(14.1,134.7),(15.0,124.5),(16.4,119.5),(16.6,123.6),(17.0,126.4),
         (17.6,117.2),(18.2,127.3),(18.8,129.2),(19.6,128.4),(19.6,115.3),(20.4,113.3),(22.9,102.6),
         (23.1,110.0),(23.4,104.5)]
i_fit_x = [0.04, 23.5]
i_fit_y = [97.0, 131.3]

letters = ['a', 'b', 'c', 'd', 'e', 'f', 'g', 'h', 'i']
r2_text = ['0.198 5', '0.246 1', '0.171 6', '0.105 6', '0.181 2', '0.176 2', '0.294 5', '0.001 8', '0.057 1']
x_names = [r'$GR$/API', r'$AC$/(μs·ft$^{-1}$)', r'$DEN$/(g·cm$^{-3}$)', r'$CAL$/in',
           r'$LNRS$', r'$LNRD$', r'$CNL$', r'$SP$/mV', r'$POR$/%']
x_ticks = [[0, 50, 100, 150, 200], [40, 50, 60, 70, 80, 90, 100],
           [1.8, 2.0, 2.2, 2.4, 2.6, 2.8, 3.0], [5, 6, 7, 8, 9, 10, 11, 12],
           [5, 6, 7, 8, 9, 10, 11, 12], [5, 6, 7, 8, 9, 10, 11, 12],
           [0, 5, 10, 15, 20, 25, 30, 35, 40], [5, 25, 45, 65, 85, 105, 125],
           [0, 5, 10, 15, 20, 25]]
y_ticks = [0, 50, 100, 150, 200, 250, 300, 350]


def band(pairs):
    px, py = [], []
    for xs, ys in pairs:
        px += list(xs)
        py += list(ys)
    return px, py


def pts(p):
    arr = np.array(p, dtype=float)
    return list(arr[:, 0]), list(arr[:, 1])


def joined(band_xy, extra):
    ex_x, ex_y = pts(extra)
    return np.array(band_xy[0] + ex_x), np.array(band_xy[1] + ex_y)


e_xy = band([(e_band_x, e_top), (e_band_x, e_upper), (e_band_x, e_lower), (e_band_x, e_bottom),
             (e_band_x_mid, e_mid_hi), (e_band_x_mid, e_mid_c), (e_band_x_mid, e_mid_lo)])
f_xy = band([(f_band_x, f_top), (f_band_x, f_upper), (f_band_x, f_lower), (f_band_x, f_bottom),
             (f_band_x_mid, f_mid_hi), (f_band_x_mid, f_mid_c), (f_band_x_mid, f_mid_lo)])
h_xy = band([(h_band_x, h_top), (h_band_x, h_upper), (h_band_x, h_lower), (h_band_x, h_bottom),
             (h_band_x_mid, h_mid_hi), (h_band_x_mid, h_mid_c), (h_band_x_mid, h_mid_lo),
             (h_band_x_mid, h_mid_b)])

series = [pts(a_pts), pts(b_pts), pts(c_pts), pts(d_pts),
          joined(e_xy, e_pts), joined(f_xy, f_pts), pts(g_pts), joined(h_xy, h_pts), pts(i_pts)]
fits = [(a_fit_x, a_fit_y), (b_fit_x, b_fit_y), (c_fit_x, c_fit_y), (d_fit_x, d_fit_y),
        (e_fit_x, e_fit_y), (f_fit_x, f_fit_y), (g_fit_x, g_fit_y), (h_fit_x, h_fit_y),
        (i_fit_x, i_fit_y)]

fig = plt.figure(figsize=(10.5, 8.24), dpi=300)
lefts = [0.1205, 0.4154, 0.7064]
bottoms = [0.7249, 0.3869, 0.055]
w, h = 0.229, 0.2637

for k in range(9):
    ax = fig.add_axes([lefts[k % 3], bottoms[k // 3], w, h])
    x, y = series[k]
    ax.scatter(x, y, s=14, facecolors='none', edgecolors='#0000ff', linewidths=0.9,
               alpha=0.65, zorder=2, clip_on=False)
    ax.plot(fits[k][0], fits[k][1], color='#ff1a1a', lw=1.1, zorder=3)

    xt = x_ticks[k]
    ax.set_xlim(xt[0], xt[-1])
    ax.set_ylim(0, 350)
    ax.set_xticks(xt)
    ax.set_yticks(y_ticks)
    if k == 2:
        xl = [f'{v:.1f}' for v in xt]
    else:
        xl = [str(v) for v in xt]
    yl = [str(v) for v in y_ticks]
    if xt[0] == 0:
        # one shared "0" at the origin corner
        xl[0] = ''
        yl[0] = ''
        ax.annotate('0', xy=(0, 0), xycoords='axes fraction', xytext=(-8, -4.5),
                    textcoords='offset points', ha='center', va='top', fontsize=12.5)
    ax.set_xticklabels(xl)
    ax.set_yticklabels(yl)

    ax.tick_params(direction='in', length=4, width=0.8, top=False, right=False, labelsize=12.5)
    ax.tick_params(axis='x', pad=4.5)
    ax.tick_params(axis='y', pad=5)
    for sp in ax.spines.values():
        sp.set_linewidth(0.9)

    ax.set_xlabel(x_names[k], fontsize=12.5, labelpad=3)
    ax.set_ylabel(r'$DTSM$/(μs·ft$^{-1}$)', fontsize=12.5, labelpad=1)
    ax.text(0.055, 0.902, letters[k], transform=ax.transAxes, ha='left', va='baseline', fontsize=12.5)
    ax.text(0.94, 0.89, r'$R^{2}$=' + r2_text[k], transform=ax.transAxes, ha='right',
            va='baseline', fontsize=12.5)

fig.savefig('out.png', dpi=300)
